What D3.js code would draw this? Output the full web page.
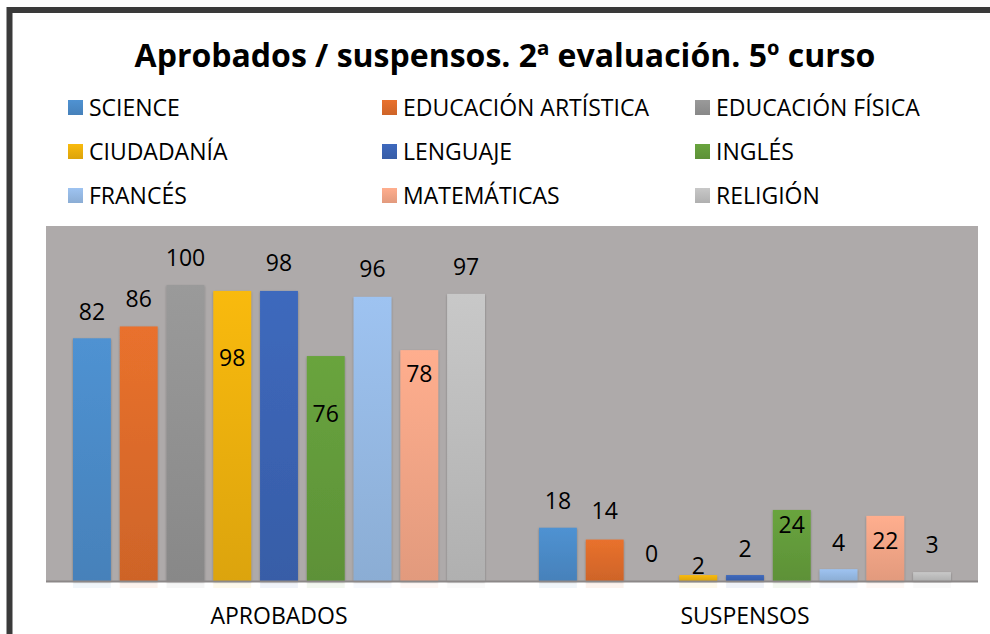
<!DOCTYPE html>
<html>
<head>
<meta charset="utf-8">
<script src="https://cdn.jsdelivr.net/npm/d3@7"></script>
<style>
  html, body { margin: 0; padding: 0; background: #ffffff; }
  svg { display: block; }
  text { font-family: "Open Sans", "Noto Sans", sans-serif; }
</style>
</head>
<body>
<svg id="chart" width="990" height="634"></svg>
<script>
// ---- data ----
const categories = ["APROBADOS", "SUSPENSOS"];
const subjects = ["SCIENCE", "EDUCACIÓN ARTÍSTICA", "EDUCACIÓN FÍSICA",
                  "CIUDADANÍA", "LENGUAJE", "INGLÉS",
                  "FRANCÉS", "MATEMÁTICAS", "RELIGIÓN"];
const aprobados = [82, 86, 100, 98, 98, 76, 96, 78, 97];
const suspensos = [18, 14, 0, 2, 2, 24, 4, 22, 3];
const subjectColors = ["#4a88c4", "#d9692a", "#8f8f8f", "#e8ad0c", "#3a62b0",
                       "#62993a", "#93b6e0", "#eea284", "#bababa"];
// label shift relative to bar top (px, + = down), as placed in the original
const aprobadosLabelShift = [-26, -27, -27, 67, -28, 58, -28, 24, -27];
const suspensosLabelShift = [-27, -29, -27, -9, -26, 15, -26, 25, -27];
const title = "Aprobados / suspensos. 2ª evaluación. 5º curso";

const seriesValues = [aprobados, suspensos];
const labelShifts = [aprobadosLabelShift, suspensosLabelShift];

// ---- layout ----
const svg = d3.select("#chart");
const plot = { left: 46, right: 978, top: 226, bottom: 581 };

const defs = svg.append("defs");
subjectColors.forEach((c, i) => {
  const g = defs.append("linearGradient").attr("id", "grad" + i)
    .attr("x1", 0).attr("y1", 0).attr("x2", 0).attr("y2", 1);
  g.append("stop").attr("offset", "0%").attr("stop-color", d3.color(c).brighter(0.2));
  g.append("stop").attr("offset", "100%").attr("stop-color", d3.color(c).darker(0.15));
});
const f = defs.append("filter").attr("id", "shadow")
  .attr("x", "-20%").attr("y", "-20%").attr("width", "140%").attr("height", "140%");
f.append("feDropShadow").attr("dx", 0).attr("dy", 1).attr("stdDeviation", 1.3)
  .attr("flood-color", "#000").attr("flood-opacity", 0.3);

// frame
svg.append("rect").attr("x", 9.5).attr("y", 10).attr("width", 1000).attr("height", 700)
  .attr("fill", "#ffffff").attr("stroke", "#3a3a3a").attr("stroke-width", 6);

// title
svg.append("text").attr("x", 505).attr("y", 67).attr("text-anchor", "middle")
  .attr("font-size", 32).attr("font-weight", "bold").attr("fill", "#000")
  .text(title);

// legend
const legendCols = [68, 382, 695];
const legendRows = [116, 160, 204];
const legend = svg.append("g");
subjects.forEach((s, i) => {
  const cx = legendCols[i % 3], by = legendRows[Math.floor(i / 3)];
  legend.append("rect").attr("x", cx).attr("y", by - 16).attr("width", 15).attr("height", 15)
    .attr("fill", "url(#grad" + i + ")");
  legend.append("text").attr("x", cx + 21).attr("y", by)
    .attr("font-size", 23).attr("fill", "#000").text(s);
});

// scales
const x0 = d3.scaleBand().domain(categories).range([plot.left, plot.right]).padding(0);
const x1 = d3.scaleBand().domain(subjects)
  .range([27, x0.bandwidth() - 27]).paddingInner(0.19).paddingOuter(0);
const y = d3.scaleLinear().domain([0, 100]).range([plot.bottom, 285]);

// plot background
svg.append("rect").attr("x", plot.left).attr("y", plot.top)
  .attr("width", plot.right - plot.left).attr("height", plot.bottom - plot.top)
  .attr("fill", "#aeaaaa");

// bars
const groups = svg.append("g").selectAll("g").data(categories).join("g")
  .attr("transform", d => `translate(${x0(d)},0)`);

groups.each(function(cat, ci) {
  const g = d3.select(this);
  const vals = seriesValues[ci];
  // faint reflection below baseline
  g.selectAll("rect.refl").data(subjects).join("rect").attr("class", "refl")
    .attr("x", d => x1(d)).attr("y", plot.bottom + 1)
    .attr("width", x1.bandwidth()).attr("height", 6)
    .attr("fill", (d, i) => subjectColors[i]).attr("opacity", (d, i) => vals[i] > 0 ? 0.08 : 0);
  g.selectAll("rect.bar").data(subjects).join("rect").attr("class", "bar")
    .attr("x", d => x1(d))
    .attr("y", (d, i) => y(vals[i]))
    .attr("width", x1.bandwidth())
    .attr("height", (d, i) => y(0) - y(vals[i]))
    .attr("fill", (d, i) => "url(#grad" + i + ")")
    .attr("filter", "url(#shadow)");
});

// baseline
svg.append("line").attr("x1", plot.left).attr("x2", plot.right)
  .attr("y1", plot.bottom + 0.5).attr("y2", plot.bottom + 0.5)
  .attr("stroke", "#8c8888").attr("stroke-width", 2);

// data labels
groups.each(function(cat, ci) {
  const g = d3.select(this);
  const vals = seriesValues[ci];
  const shifts = labelShifts[ci];
  g.selectAll("text.lbl").data(subjects).join("text").attr("class", "lbl")
    .attr("x", d => x1(d) + x1.bandwidth() / 2)
    .attr("y", (d, i) => y(vals[i]) + shifts[i])
    .attr("dy", "0.35em")
    .attr("text-anchor", "middle").attr("font-size", 23).attr("fill", "#000")
    .text((d, i) => vals[i]);
});

// category axis
const xAxis = d3.axisBottom(x0).tickSize(0).tickPadding(0);
const ax = svg.append("g").attr("transform", `translate(0,${plot.bottom})`).call(xAxis);
ax.select(".domain").remove();
ax.selectAll("text").attr("font-size", 23).attr("fill", "#000")
  .attr("font-family", "Open Sans, Noto Sans, sans-serif")
  .attr("dy", null).attr("y", 43);
</script>
</body>
</html>
